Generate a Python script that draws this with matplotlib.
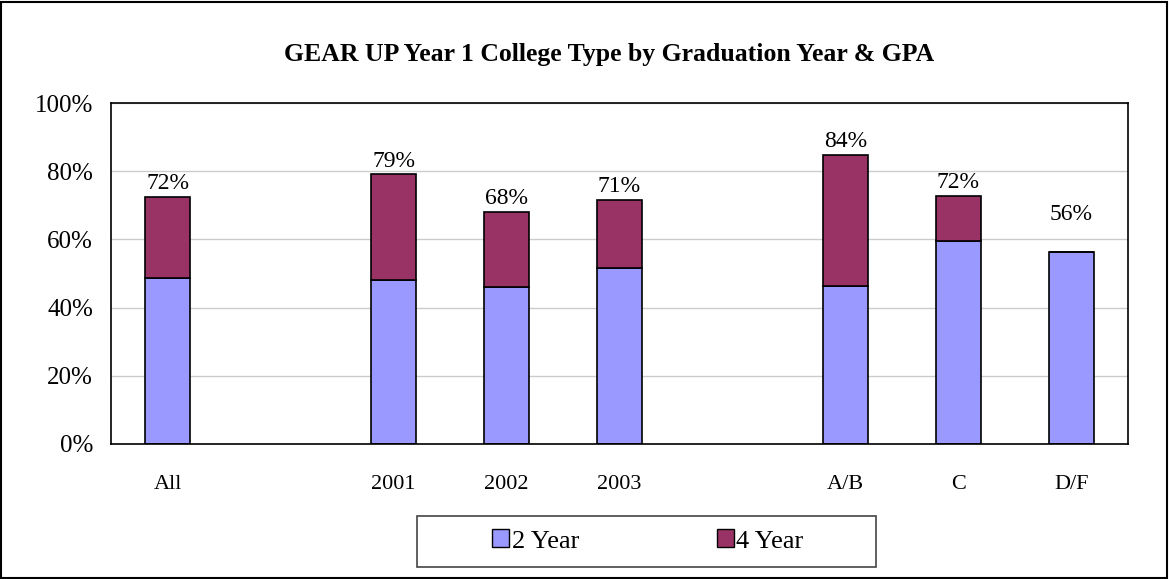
import matplotlib
matplotlib.use("Agg")
import matplotlib.pyplot as plt
from matplotlib.patches import Rectangle, Patch
import numpy as np

plt.rcParams['font.family'] = ['Liberation Serif', 'DejaVu Serif']

# categories (empty strings are the gaps between groups)
categories = ["All", "", "2001", "2002", "2003", "", "A/B", "C", "D/F"]
two_year = [48.6, np.nan, 48.1, 46.0, 51.6, np.nan, 46.3, 59.5, 56.3]
four_year = [23.9, np.nan, 31.0, 22.0, 20.0, np.nan, 38.4, 13.2, 0.0]
total_labels = ["72%", "", "79%", "68%", "71%", "", "84%", "72%", "56%"]

W, H = 1169, 579
fig = plt.figure(figsize=(W / 100, H / 100), dpi=100)
ax = fig.add_axes([111 / W, (H - 444) / H, 1017 / W, 341 / H])

x = np.arange(len(categories))
tw = np.array(two_year)
fw = np.array(four_year)
ax.bar(x, tw, width=0.4, color='#9999FF', edgecolor='black', linewidth=1.2)
ax.bar(x, fw, width=0.4, bottom=tw, color='#993366', edgecolor='black', linewidth=1.2)

for i, lab in enumerate(total_labels):
    if not lab:
        continue
    top = tw[i] + fw[i]
    # D/F label sits higher in the original
    off = 8 if fw[i] == 0 else 0.8
    ax.text(x[i], top + off, lab, ha='center', va='bottom', fontsize=17)

ax.set_xlim(-0.5, len(categories) - 0.5)
ax.set_ylim(0, 100)
ax.set_yticks([0, 20, 40, 60, 80, 100])
ax.set_yticklabels(["0%", "20%", "40%", "60%", "80%", "100%"], fontsize=18)
ax.set_xticks(x)
ax.set_xticklabels(categories, fontsize=16)
ax.tick_params(axis='x', length=0, pad=22)
ax.tick_params(axis='y', length=0, pad=13)
ax.yaxis.grid(True, color='#CCCCCC', linewidth=1)
ax.set_axisbelow(True)
for s in ax.spines.values():
    s.set_color('black')
    s.set_linewidth(1.2)

fig.text(0.521, 0.906, "GEAR UP Year 1 College Type by Graduation Year & GPA",
         ha='center', va='center', fontsize=18.5, fontweight='bold')

handles = [Patch(facecolor='#9999FF', edgecolor='black', label='2 Year'),
           Patch(facecolor='#993366', edgecolor='black', label='4 Year')]
leg = fig.legend(handles=handles, loc='center', bbox_to_anchor=(648 / W, (H - 541) / H),
                 ncol=2, fontsize=19, frameon=False,
                 handlelength=0.65, handleheight=0.65, handletextpad=0.1,
                 columnspacing=5.2, borderpad=0)
fig.patches.append(Rectangle((417 / W, (H - 567) / H), 459 / W, 51 / H,
                             transform=fig.transFigure, fill=False,
                             edgecolor='#444444', linewidth=1.2))

fig.patches.append(Rectangle((0.001, 0.002), 0.997, 0.995, transform=fig.transFigure,
                             fill=False, edgecolor='black', linewidth=1.5))

fig.savefig("out.png", dpi=100)
